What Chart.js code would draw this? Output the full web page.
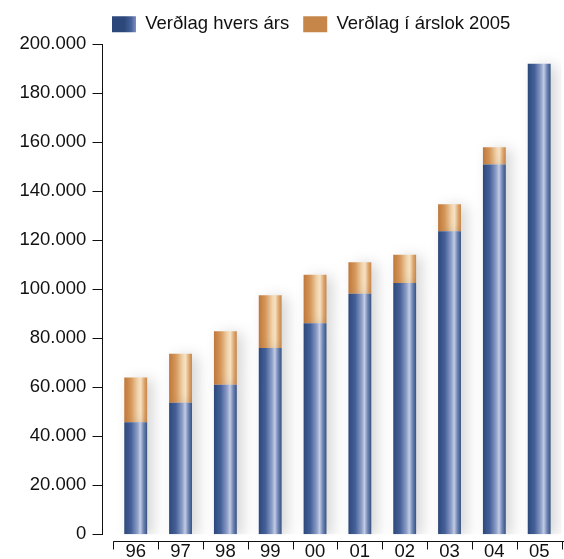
<!DOCTYPE html>
<html>
<head>
<meta charset="utf-8">
<script src="https://cdn.jsdelivr.net/npm/chart.js@4"></script>
<style>
  html, body { margin: 0; padding: 0; background: #fff; overflow: hidden; }
  canvas { display: block; }
</style>
</head>
<body>
<canvas id="chart" width="564" height="559"></canvas>
<script>
// ár (1996-2005)
const years = ["96", "97", "98", "99", "00", "01", "02", "03", "04", "05"];
// Verðlag hvers árs
const hversArs = [45700, 53600, 60900, 75900, 86000, 98000, 102400, 123500, 150700, 191700];
// Verðlag í árslok 2005
const arslok2005 = [63900, 73600, 82700, 97400, 105800, 110900, 113900, 134500, 157700, 191700];

const BAR_PCT = 0.51;

const blueStops = [[0, "#2c487a"], [0.3, "#46619a"], [0.58, "#8fa0c9"], [0.7, "#c4cce4"], [0.84, "#7087b7"], [1, "#36527f"]];
const orangeStops = [[0, "#bf773a"], [0.3, "#d6985b"], [0.6, "#f1d5ae"], [0.72, "#f5e1c3"], [0.88, "#dca46b"], [1, "#c68649"]];

// gradient across each bar, from the x scale
function barFill(stops, flat) {
  return (c) => {
    if (c.type !== "data" || !c.chart.chartArea) return flat;
    const x = c.chart.scales.x;
    const mid = x.getPixelForValue(c.dataIndex);
    const w = x.width / years.length * BAR_PCT;
    if (!isFinite(mid) || !isFinite(w) || w <= 0) return flat;
    const g = c.chart.ctx.createLinearGradient(mid - w / 2, 0, mid + w / 2, 0);
    stops.forEach(s => g.addColorStop(s[0], s[1]));
    return g;
  };
}

const fmt = v => String(v).replace(/\B(?=(\d{3})+(?!\d))/g, ".");

// axes are drawn a little apart from the plot, like in the print
const offsetAxes = {
  id: "offsetAxes",
  afterDraw(chart) {
    const { ctx, chartArea: a, scales: { x, y } } = chart;
    ctx.save();
    ctx.strokeStyle = "#111";
    ctx.lineWidth = 1;
    ctx.beginPath();
    const ax = Math.round(a.left - 11) + 0.5;
    ctx.moveTo(ax, Math.round(y.getPixelForValue(y.max)));
    ctx.lineTo(ax, Math.round(y.getPixelForValue(0)) + 1);
    y.ticks.forEach(t => {
      const py = Math.round(y.getPixelForValue(t.value)) + 0.5;
      ctx.moveTo(ax - 10, py);
      ctx.lineTo(ax, py);
    });
    const ay = Math.round(a.bottom + 7) + 0.5;
    ctx.moveTo(a.left, ay);
    ctx.lineTo(chart.width, ay);
    for (let i = 0; i <= years.length; i++) {
      const px = Math.round(x.getPixelForValue(i - 0.5)) + 0.5;
      ctx.moveTo(px, ay);
      ctx.lineTo(px, ay + 8);
    }
    ctx.stroke();
    ctx.restore();
  }
};

// soft shadow behind the bars
const barShadow = {
  id: "barShadow",
  beforeDatasetsDraw(chart) {
    const ctx = chart.ctx;
    ctx.save();
    ctx.shadowColor = "rgba(0,0,0,0.16)";
    ctx.shadowBlur = 14;
    ctx.shadowOffsetX = 6;
    ctx.shadowOffsetY = 2;
  },
  afterDatasetsDraw(chart) {
    chart.ctx.restore();
  }
};

// legend starts above the axis, not at the left edge
const legendShift = {
  id: "legendShift",
  afterLayout(chart) {
    chart.legend.left = 112 - chart.options.plugins.legend.labels.padding;
  }
};

Chart.defaults.font.family = "'Liberation Sans', Arial, sans-serif";
Chart.defaults.font.size = 18.5;
Chart.defaults.color = "#111";

const chart = new Chart(document.getElementById("chart"), {
  type: "bar",
  data: {
    labels: years,
    datasets: [
      {
        label: "Verðlag hvers árs",
        data: hversArs,
        backgroundColor: barFill(blueStops, "#4a6499"),
        order: 1
      },
      {
        label: "Verðlag í árslok 2005",
        data: years.map((y, i) => [hversArs[i], arslok2005[i]]),
        backgroundColor: barFill(orangeStops, "#d99e62"),
        order: 2
      }
    ]
  },
  options: {
    responsive: false,
    animation: false,
    grouped: false,
    barPercentage: BAR_PCT,
    categoryPercentage: 1,
    borderSkipped: false,
    layout: { padding: { left: 0, right: 2.4, top: 1, bottom: 0 } },
    plugins: {
      legend: {
        position: "top",
        align: "start",
        labels: { boxWidth: 24, boxHeight: 16, padding: 14 }
      },
      tooltip: { enabled: false }
    },
    scales: {
      x: {
        grid: { display: false, drawTicks: false },
        border: { display: false },
        ticks: { padding: 7, maxRotation: 0 },
        afterFit: s => { s.height = 24.7; s.paddingLeft = 0; s.paddingRight = 0; }
      },
      y: {
        min: 0,
        max: 200000,
        grid: { display: false, drawTicks: false },
        border: { display: false },
        ticks: { stepSize: 20000, padding: 27, callback: v => fmt(v) },
        afterFit: s => { s.width = 113.3; s.paddingTop = 0; s.paddingBottom = 0; }
      }
    }
  },
  plugins: [offsetAxes, barShadow, legendShift]
});
chart.update();
</script>
</body>
</html>
